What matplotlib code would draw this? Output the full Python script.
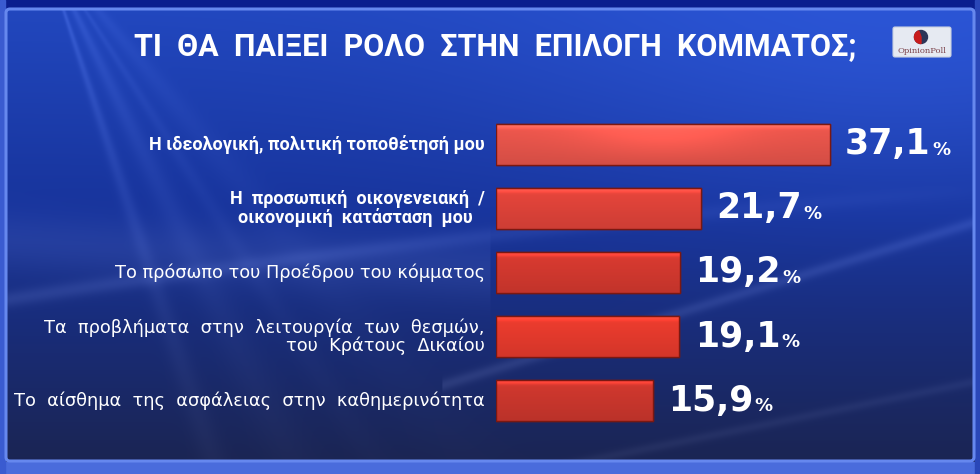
"""
Poll chart: what will matter in choosing a party (OpinionPoll)
"""
import numpy as np
import matplotlib
matplotlib.use('Agg')
import matplotlib.pyplot as plt
import matplotlib.patches as patches
import matplotlib.colors as mcolors

# --- data -------------------------------------------------------------
title = 'ΤΙ  ΘΑ  ΠΑΙΞΕΙ  ΡΟΛΟ  ΣΤΗΝ  ΕΠΙΛΟΓΗ  ΚΟΜΜΑΤΟΣ;'
categories = [
    'Η ιδεολογική, πολιτική τοποθέτησή μου',
    'Η  προσωπική  οικογενειακή  /\nοικονομική  κατάσταση  μου ',
    'Το πρόσωπο του Προέδρου του κόμματος',
    'Τα  προβλήματα  στην  λειτουργία  των  θεσμών,\nτου  Κράτους  Δικαίου',
    'Το  αίσθημα  της  ασφάλειας  στην  καθημερινότητα',
]
values = [37.1, 21.7, 19.2, 19.1, 15.9]
label_bold = [True, True, False, False, False]
label_align = ['right', 'center', 'right', 'right', 'right']
bar_colors = ['#f0584e', '#e9463c', '#dc3b31', '#f03d2f', '#d4392f']

W, H = 980, 474
fig = plt.figure(figsize=(W / 100, H / 100), dpi=100)

# --- background -------------------------------------------------------
bg = fig.add_axes([0, 0, 1, 1])
bg.set_xlim(0, W)
bg.set_ylim(H, 0)
bg.axis('off')

yy, xx = np.mgrid[0:H, 0:W].astype(float)
t = yy / H
top = np.array(mcolors.to_rgb('#2248c0'))
mid = np.array(mcolors.to_rgb('#17339a'))
bot = np.array(mcolors.to_rgb('#1b244f'))
t1 = np.clip(t / 0.45, 0, 1)[..., None]
t2 = np.clip((t - 0.45) / 0.55, 0, 1)[..., None]
img = np.where(t[..., None] < 0.45, top * (1 - t1) + mid * t1, mid * (1 - t2) + bot * t2)
# a bit brighter to the top-right
glow = np.exp(-(((xx - 900) / 400) ** 2 + ((yy - 60) / 160) ** 2))
img += glow[..., None] * np.array([0.04, 0.06, 0.10])

# light rays from the top-left corner
ang = np.arctan2(yy + 60, xx - 40)
dist = np.hypot(xx - 40, yy + 60)
for a0, w, s in [(1.25, 0.025, 0.10), (1.12, 0.04, 0.07), (1.0, 0.025, 0.05), (0.88, 0.05, 0.04)]:
    ray = np.exp(-((ang - a0) / w) ** 2) * np.exp(-dist / 360) * s
    img += ray[..., None]

# soft curved streaks
def band(yc, width, strength):
    return np.exp(-((yy - yc) / width) ** 2) * strength

xs = xx / W
img += band(250 + 60 * xs - 10, 30, 0.05)[..., None] * (xs[..., None] < 0.5)
img += band(300 - 150 * xs + 40 * xs ** 2, 8, 0.07)[..., None] * (1 - xs[..., None]) ** 0.6
img += band(520 - 300 * xs, 6, 0.07)[..., None] * (xs[..., None] > 0.45)
img += band(470 - 200 * np.clip(xs - 0.55, 0, 1), 5, 0.04)[..., None] * (xs[..., None] > 0.55)
img = np.clip(img, 0, 1)
bg.imshow(img, extent=(0, W, H, 0), aspect='auto', zorder=0)

# outer frame
bg.add_patch(patches.Rectangle((0, 0), W, 8, color='#0a1e8e', zorder=1))
bg.add_patch(patches.Rectangle((0, 462), W, 12, color='#4a6cdc', zorder=1))
bg.add_patch(patches.Rectangle((0, 0), 5, H, color='#3a5bd0', zorder=1))
bg.add_patch(patches.Rectangle((975, 0), 5, H, color='#2a47b8', zorder=1))
bg.add_patch(patches.FancyBboxPatch((6, 9), 968, 452, boxstyle='round,pad=0,rounding_size=4',
                                    fill=False, edgecolor='#6688ee', lw=2.2, zorder=2))

# title
bg.text(495, 46, title, color='white', fontsize=22, fontweight='bold',
        family=['Roboto', 'DejaVu Sans'], ha='center', va='center', zorder=3)

# logo
bg.add_patch(patches.FancyBboxPatch((893, 27), 58, 30, boxstyle='round,pad=0,rounding_size=2',
                                    facecolor='#e6eaf2', edgecolor='#c8d0e0', lw=0.8, zorder=3))
bg.add_patch(patches.Circle((921, 37), 6.5, color='#2c3558', zorder=4))
bg.add_patch(patches.Wedge((921, 37), 6.5, 90, 250, color='#c81c1c', zorder=5))
bg.text(922, 51, 'OpinionPoll', color='#7a4048', fontsize=6.0,
        family='DejaVu Serif', ha='center', va='center', zorder=4)

# --- bars -------------------------------------------------------------
px_per_unit = 8.35
base = 24 / px_per_unit       # bars start a little before zero
ax_left, ax_right = 496, 975
ax_top, ax_bottom = 112, 433
ax = fig.add_axes([ax_left / W, 1 - ax_bottom / H, (ax_right - ax_left) / W, (ax_bottom - ax_top) / H])
ax.patch.set_alpha(0)
ax.set_xlim(-base, -base + (ax_right - ax_left) / px_per_unit)
ax.set_ylim(len(values) - 0.5, -0.5)
ax.axis('off')

ypos = np.arange(len(values))
bars = ax.barh(ypos, np.array(values) + base, left=-base, height=0.64,
               color=bar_colors, edgecolor='#7a1812', linewidth=1.0, zorder=2)

shade = np.linspace(0, 1, 64)[:, None]
across = np.linspace(0, 1, 128)[None, :]
for k, (b, c) in enumerate(zip(bars, bar_colors)):
    rgb = np.array(mcolors.to_rgb(c))
    x0, y0, w, h = b.get_x(), b.get_y(), b.get_width(), b.get_height()
    # top highlight, darker bottom; the top bar has a soft sheen in the middle
    g = 1.0 + 0.25 * np.exp(-((shade - 0.06) / 0.06) ** 2) - 0.12 * shade
    if k == 0:
        g = g + 0.18 * np.exp(-((across - 0.5) / 0.25) ** 2) * (1 - shade)
    else:
        g = g + 0 * across
    grad = np.clip(rgb[None, None, :] * g[..., None], 0, 1)
    im = ax.imshow(grad, extent=(x0, x0 + w, y0 + h, y0), aspect='auto', zorder=3)
    im.set_clip_path(b)
    ax.add_patch(patches.Rectangle((x0, y0), w, h, fill=False, edgecolor='#7a1812', lw=1.0, zorder=4))

for i, (v, cat) in enumerate(zip(values, categories)):
    num = f'{v:.1f}'.replace('.', ',')
    txt = ax.annotate(num, (v, i), xytext=(11, 0), textcoords='offset points',
                      color='white', fontsize=25, fontweight='bold', ha='left', va='center', zorder=5)
    ax.annotate('%', xy=(1, 0.5), xycoords=txt, xytext=(1, -4), textcoords='offset points',
                color='white', fontsize=13, fontweight='bold', ha='left', va='center', zorder=5)
    if label_bold[i]:
        style = dict(fontsize=13, fontweight='bold', family=['Roboto', 'DejaVu Sans'])
    else:
        style = dict(fontsize=12.8, fontweight='normal', family=['DejaVu Sans'])
    ax.annotate(cat, (-base, i), xytext=(-8, 0), textcoords='offset points',
                color='white', ha='right', va='center', multialignment=label_align[i],
                linespacing=1.0, zorder=5, **style)

fig.savefig('out.png', dpi=100)
